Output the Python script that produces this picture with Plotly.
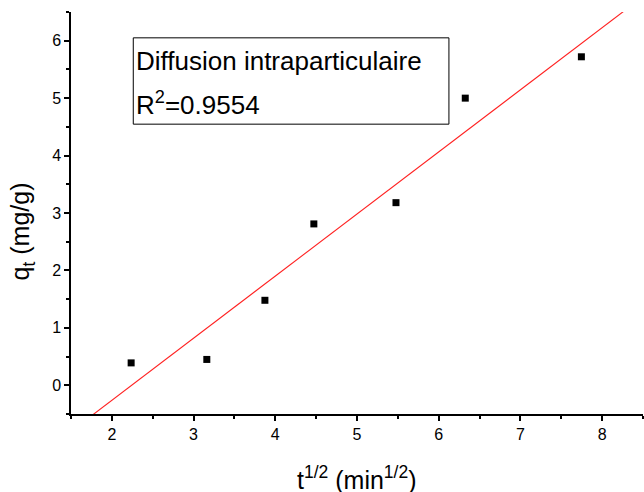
import numpy as np
import plotly.graph_objects as go

# Square root of contact time (min^1/2) and adsorbed amount q_t (mg/g)
t_sqrt = [2.236, 3.162, 3.873, 4.472, 5.477, 6.325, 7.746]
q_t = [0.39, 0.45, 1.48, 2.81, 3.18, 5.00, 5.72]

x_ticks = [2, 3, 4, 5, 6, 7, 8]
y_ticks = [0, 1, 2, 3, 4, 5, 6]

box_title = "Diffusion intraparticulaire"
box_r2 = "R<sup>2</sup>=0.9554"

# Linear fit of the intraparticle diffusion model
slope, intercept = np.polyfit(t_sqrt, q_t, 1)
fit_x = np.array([1.5, 8.5])
fit_y = slope * fit_x + intercept

FONT = "Arial, Liberation Sans, sans-serif"

fig = go.Figure()
fig.add_trace(go.Scatter(
    x=fit_x, y=fit_y, mode="lines",
    line=dict(color="#ff2020", width=1.1),
    showlegend=False, hoverinfo="skip",
))
fig.add_trace(go.Scatter(
    x=t_sqrt, y=q_t, mode="markers",
    marker=dict(symbol="square", size=7, color="black"),
    showlegend=False,
))

axis_common = dict(
    showline=True, linecolor="black", linewidth=1.5,
    ticks="outside", ticklen=5, tickwidth=1.5, tickcolor="black",
    showgrid=False, zeroline=False,
    tickfont=dict(family=FONT, size=16, color="black"),
    minor=dict(ticks="outside", ticklen=3, tickwidth=1.5, tickcolor="black", dtick=0.5),
)

fig.update_layout(
    width=644, height=492,
    margin=dict(l=71, r=1, t=12, b=78),
    paper_bgcolor="white", plot_bgcolor="white",
    xaxis=dict(range=[1.5, 8.5], tickvals=x_ticks, **axis_common),
    yaxis=dict(range=[-0.5, 6.5], tickvals=y_ticks, **axis_common),
    font=dict(family=FONT, color="black"),
)

# Axis titles
fig.add_annotation(
    text="t<sup>1/2</sup> (min<sup>1/2</sup>)", xref="paper", yref="paper",
    x=0.5, y=-0.16, xanchor="center", yanchor="middle", showarrow=False,
    font=dict(family=FONT, size=25, color="black"),
)
fig.add_annotation(
    text="q<sub>t</sub> (mg/g)", xref="paper", yref="paper",
    x=-0.085, y=0.455, xanchor="center", yanchor="middle", showarrow=False,
    textangle=-90, font=dict(family=FONT, size=25, color="black"),
)

# Text box with the model name and R²
fig.add_shape(
    type="rect", xref="x", yref="y",
    x0=2.262, x1=6.125, y0=4.547, y1=6.05,
    line=dict(color="black", width=1), fillcolor="rgba(0,0,0,0)",
)
fig.add_annotation(
    text=box_title, xref="x", yref="y", x=2.275, y=5.65,
    xanchor="left", yanchor="middle", showarrow=False,
    font=dict(family=FONT, size=26, color="black"),
)
fig.add_annotation(
    text=box_r2, xref="x", yref="y", x=2.275, y=4.9,
    xanchor="left", yanchor="middle", showarrow=False,
    font=dict(family=FONT, size=26, color="black"),
)

fig.write_html("out.html")
